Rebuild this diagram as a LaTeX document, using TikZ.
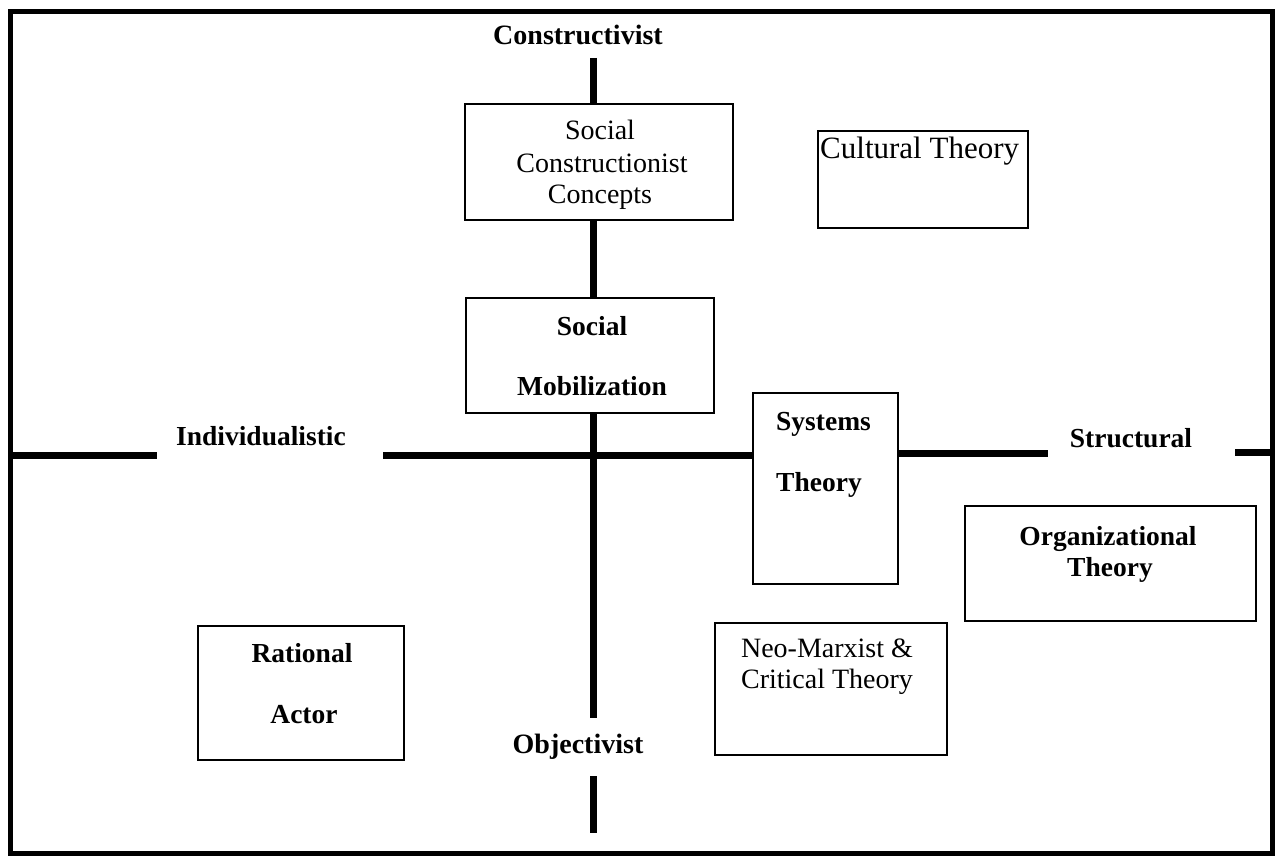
\documentclass[tikz,border=0pt]{standalone}
\usepackage{fontspec}
\setmainfont{Liberation Serif}
\begin{document}
\begin{tikzpicture}[x=1pt,y=-1pt,
  frame/.style={line width=5pt},
  axis/.style={line width=7pt},
  box/.style={draw,line width=2.4pt,rectangle,inner sep=0pt},
  plain/.style={anchor=base,inner sep=0pt,font=\fontsize{28}{32}\selectfont},
  strong/.style={anchor=base,inner sep=0pt,font=\fontsize{27.5}{32}\selectfont\bfseries}]
\useasboundingbox (0,0) rectangle (1277,864);
\fill[white] (0,0) rectangle (1277,864);

% outer frame
\draw[frame] (10,12) rectangle (1272,853);

% boxes
\node[box,minimum width=268,minimum height=116] (scc) at (599,162) {};
\node[box,minimum width=210,minimum height=97] (cult) at (923,179.5) {};
\node[box,minimum width=248,minimum height=115] (smob) at (590,355.5) {};
\node[box,minimum width=145,minimum height=191] (sys) at (825.5,488.5) {};
\node[box,minimum width=291,minimum height=115] (org) at (1110.5,563.5) {};
\node[box,minimum width=206,minimum height=134] (rat) at (301,693) {};
\node[box,minimum width=232,minimum height=132] (neo) at (831,689) {};

% box texts
\node[plain] (scc1) at (600,140) {Social};
\node[plain] (scc2) at (602,172) {Constructionist};
\node[plain] (scc3) at (600,203) {Concepts};
\node[plain,anchor=base west,font=\fontsize{31}{34}\selectfont] (cult1) at (820,158) {Cultural Theory};
\node[strong] (smob1) at (592,335) {Social};
\node[strong] (smob2) at (592,395) {Mobilization};
\node[strong,anchor=base west] (sys1) at (776,430) {Systems};
\node[strong,anchor=base west] (sys2) at (776,491) {Theory};
\node[strong] (org1) at (1108,545) {Organizational};
\node[strong] (org2) at (1110,576) {Theory};
\node[strong] (rat1) at (302,662) {Rational};
\node[strong] (rat2) at (304,723) {Actor};
\node[plain] (neo1) at (827,657) {Neo-Marxist \&};
\node[plain] (neo2) at (827,688) {Critical Theory};

% axis labels
\node[strong,font=\fontsize{28}{32}\selectfont\bfseries] (cons) at (578,45) {Constructivist};
\node[strong,font=\fontsize{28}{32}\selectfont\bfseries] (obj) at (578,753) {Objectivist};
\node[strong] (indiv) at (261,445) {Individualistic};
\node[strong] (struct) at (1131,447) {Structural};

% axis end points
\coordinate (vtop) at (593,58);
\coordinate (vmidend) at (593,718);
\coordinate (vlowstart) at (593,776);
\coordinate (vbottom) at (593,833);
\coordinate (hleft) at (10,455);
\coordinate (hleftend) at (157,455);
\coordinate (hmidstart) at (383,455);
\coordinate (hrightstart) at (898,453);
\coordinate (hrightend) at (1048,453);
\coordinate (hfarstart) at (1235,452);
\coordinate (hfar) at (1272,452);

% vertical axis
\draw[axis] (vtop) -- (vtop |- scc.north);
\draw[axis] (vtop |- scc.south) -- (vtop |- smob.north);
\draw[axis] (vtop |- smob.south) -- (vmidend);
\draw[axis] (vlowstart) -- (vbottom);

% horizontal axis
\draw[axis] (hleft) -- (hleftend);
\draw[axis] (hmidstart) -- (hmidstart -| sys.west);
\draw[axis] (hrightstart -| sys.east) -- (hrightend);
\draw[axis] (hfarstart) -- (hfar);
\end{tikzpicture}
\end{document}
